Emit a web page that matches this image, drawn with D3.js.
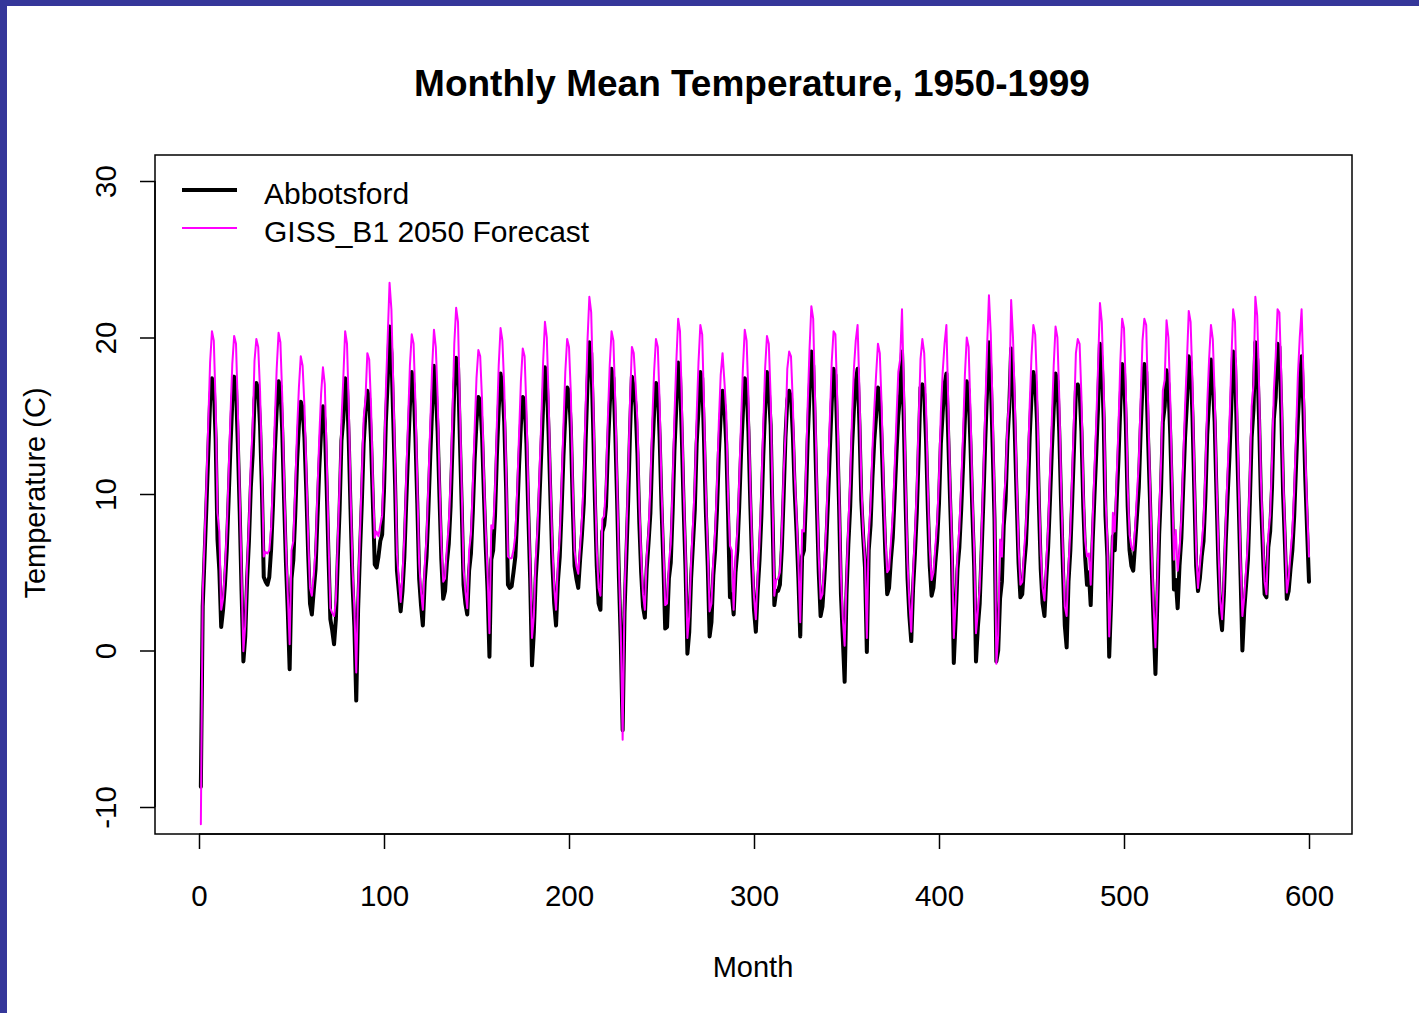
<!DOCTYPE html>
<html>
<head>
<meta charset="utf-8">
<title>Monthly Mean Temperature, 1950-1999</title>
<script src="https://cdn.jsdelivr.net/npm/d3@7/dist/d3.min.js"></script>
<style>
  html, body { margin: 0; padding: 0; background: #ffffff; }
  svg { display: block; font-family: "Liberation Sans", Arial, Helvetica, sans-serif; }
</style>
</head>
<body>
<svg id="chart" width="1419" height="1013"></svg>
<script>
// Monthly mean temperature (°C), one row per year 1950-1999, Jan..Dec
const abbotsford = [
  [-8.7, 2.8, 6.0, 9.2, 12.6, 15.9, 17.4, 16.9, 13.5, 7.1, 5.1, 1.5],
  [2.6, 4.2, 6.4, 9.6, 13.0, 15.9, 17.5, 16.8, 13.2, 8.9, 3.8, -0.7],
  [0.9, 4.5, 7.0, 10.4, 12.5, 16.0, 17.1, 16.7, 14.4, 10.3, 4.7, 4.4],
  [4.2, 4.7, 6.5, 9.3, 12.8, 15.4, 17.2, 16.9, 14.0, 9.6, 5.6, 2.5],
  [-1.2, 4.6, 5.8, 8.6, 12.0, 14.4, 15.9, 15.5, 13.6, 10.2, 6.2, 3.0],
  [2.3, 3.8, 5.2, 8.4, 11.6, 14.0, 15.6, 14.5, 10.5, 6.0, 2.0, 1.3],
  [0.4, 2.0, 5.8, 9.0, 13.4, 14.8, 17.4, 16.8, 13.2, 8.6, 4.2, 1.5],
  [-3.2, 2.6, 6.2, 9.4, 13.2, 15.2, 16.6, 16.1, 13.4, 9.4, 5.5, 5.3],
  [6.0, 7.0, 7.4, 10.2, 14.6, 17.2, 20.7, 19.0, 14.8, 10.6, 5.1, 3.8],
  [2.5, 3.8, 6.0, 9.4, 12.6, 15.6, 17.8, 16.9, 13.6, 9.4, 4.6, 2.9],
  [1.6, 4.4, 6.0, 9.0, 12.4, 15.4, 18.2, 16.6, 14.0, 9.8, 5.8, 3.3],
  [3.8, 5.6, 6.8, 9.2, 13.0, 16.8, 18.7, 18.2, 13.6, 9.2, 4.2, 3.0],
  [2.3, 5.1, 6.2, 8.8, 12.2, 14.6, 16.2, 16.0, 13.8, 10.0, 6.6, 3.8],
  [-0.4, 5.8, 6.4, 8.6, 12.4, 15.4, 17.7, 16.9, 14.6, 10.4, 4.2, 4.0],
  [4.1, 5.0, 6.0, 8.6, 11.8, 14.4, 16.2, 16.0, 13.2, 8.8, 4.6, -0.95],
  [1.2, 4.6, 6.6, 9.6, 12.6, 15.6, 18.1, 17.2, 13.8, 9.6, 5.6, 3.0],
  [1.6, 4.4, 6.0, 9.0, 12.4, 15.0, 16.8, 16.6, 14.2, 9.4, 5.4, 4.6],
  [4.0, 5.8, 7.4, 9.4, 13.4, 17.0, 19.7, 19.0, 14.6, 9.6, 5.4, 3.0],
  [2.6, 7.6, 8.0, 9.2, 12.8, 15.6, 18.0, 17.4, 14.0, 9.6, 4.6, 0.5],
  [-5.1, 2.4, 6.0, 9.6, 14.0, 17.5, 16.8, 15.6, 12.6, 8.2, 5.0, 2.8],
  [2.1, 5.2, 6.9, 8.8, 12.6, 15.2, 17.1, 16.8, 13.6, 9.2, 5.6, 1.4],
  [1.5, 4.6, 5.6, 8.8, 12.8, 15.6, 18.4, 17.6, 13.6, 9.0, 5.2, -0.2],
  [1.2, 4.6, 6.8, 9.0, 13.2, 15.4, 17.8, 17.4, 13.4, 8.8, 5.4, 0.9],
  [1.8, 4.8, 6.4, 9.0, 12.6, 15.0, 16.6, 15.6, 13.2, 8.6, 3.4, 3.6],
  [2.3, 5.0, 6.4, 9.2, 12.6, 15.2, 17.4, 17.0, 14.0, 9.4, 5.4, 2.6],
  [1.2, 3.8, 5.8, 8.6, 12.4, 15.4, 17.8, 16.6, 14.4, 8.6, 2.9, 3.8],
  [3.8, 4.2, 6.4, 9.8, 13.6, 16.0, 16.6, 16.2, 13.8, 10.2, 7.6, 4.6],
  [0.9, 6.0, 6.4, 9.4, 13.4, 16.4, 19.1, 18.2, 13.8, 9.2, 5.0, 2.2],
  [2.8, 4.6, 6.6, 9.6, 12.8, 15.8, 18.0, 17.6, 13.8, 9.2, 3.6, 0.8],
  [-2.0, 3.6, 6.8, 9.2, 13.0, 15.4, 17.2, 18.0, 14.4, 9.6, 7.3, 5.3],
  [-0.1, 6.4, 8.0, 11.0, 13.4, 15.0, 16.8, 16.4, 13.4, 9.6, 6.2, 3.6],
  [4.0, 5.8, 7.2, 9.8, 12.6, 15.0, 16.4, 19.1, 14.6, 9.2, 4.6, 2.2],
  [0.6, 4.0, 6.2, 8.8, 12.6, 16.8, 17.0, 16.4, 13.4, 9.0, 5.4, 3.5],
  [4.0, 5.6, 7.0, 9.4, 13.2, 15.2, 17.0, 17.7, 13.6, 9.6, 5.8, -0.8],
  [2.0, 5.2, 6.6, 9.0, 11.8, 14.8, 17.2, 16.6, 13.2, 9.0, 5.4, -0.7],
  [1.5, 3.0, 6.2, 9.6, 13.4, 16.6, 19.7, 17.4, 13.0, 8.4, -0.7, 0.0],
  [3.3, 4.4, 8.0, 9.6, 13.4, 15.6, 19.3, 17.6, 13.8, 9.6, 5.6, 3.4],
  [3.6, 5.4, 6.8, 9.8, 13.6, 16.2, 17.8, 17.2, 14.6, 9.4, 5.2, 3.0],
  [2.2, 4.6, 6.6, 9.6, 12.8, 15.4, 17.7, 17.2, 14.0, 9.4, 5.2, 1.6],
  [0.2, 4.4, 6.4, 9.6, 13.0, 16.6, 17.0, 16.6, 14.0, 9.2, 6.0, 4.2],
  [5.0, 2.9, 6.8, 9.8, 12.6, 15.6, 19.6, 18.4, 14.8, 8.6, 6.0, -0.4],
  [3.0, 7.3, 6.4, 9.4, 12.2, 15.6, 18.3, 17.8, 14.4, 9.2, 6.4, 5.4],
  [5.1, 6.8, 8.6, 10.4, 14.0, 17.0, 18.3, 17.8, 13.6, 9.8, 5.2, 1.8],
  [-1.5, 3.0, 7.4, 10.2, 14.6, 15.6, 17.9, 17.0, 13.8, 9.4, 3.9, 4.5],
  [2.7, 5.4, 7.2, 10.4, 13.6, 15.8, 18.8, 18.4, 15.0, 10.2, 5.4, 3.8],
  [4.6, 6.0, 7.0, 9.8, 13.8, 16.0, 18.6, 17.2, 14.6, 10.0, 5.6, 2.4],
  [1.3, 3.6, 7.0, 9.8, 12.4, 15.6, 19.1, 18.4, 13.8, 9.4, 4.8, 0.0],
  [2.6, 4.2, 5.8, 9.4, 13.6, 15.4, 19.7, 18.6, 14.8, 9.8, 6.6, 3.6],
  [3.4, 6.6, 7.6, 10.4, 14.8, 16.2, 19.6, 19.4, 15.4, 10.0, 6.8, 3.3],
  [3.8, 5.2, 6.4, 8.6, 11.8, 14.8, 17.2, 18.8, 15.4, 11.0, 7.6, 4.4]
];

// GISS B1 2050 forecast (°C), same layout
const gissB1 = [
  [-11.1, 3.6, 7.0, 10.6, 14.5, 18.4, 20.4, 19.8, 15.7, 8.8, 7.6, 2.6],
  [3.3, 5.1, 7.6, 11.2, 15.0, 18.3, 20.1, 19.6, 15.4, 10.1, 4.8, -0.05],
  [1.6, 5.4, 8.1, 12.0, 14.2, 18.5, 19.9, 19.4, 16.6, 11.6, 6.0, 6.3],
  [6.2, 6.4, 7.8, 10.9, 14.8, 18.0, 20.3, 19.7, 16.2, 10.8, 6.6, 3.5],
  [0.4, 6.4, 7.0, 10.2, 14.0, 16.8, 18.8, 18.2, 15.6, 11.6, 7.2, 4.0],
  [3.5, 4.8, 6.4, 10.0, 13.6, 16.4, 18.1, 17.0, 12.4, 7.2, 2.7, 2.4],
  [2.2, 3.2, 7.0, 10.6, 14.7, 17.4, 20.4, 19.6, 15.4, 9.8, 5.2, 2.6],
  [-1.4, 3.8, 7.4, 11.0, 14.8, 16.1, 19.0, 18.6, 15.6, 10.6, 7.2, 7.6],
  [7.3, 8.0, 8.6, 11.8, 16.6, 20.0, 23.5, 21.8, 17.0, 11.8, 6.2, 4.6],
  [3.1, 4.8, 7.2, 11.0, 14.6, 18.2, 20.2, 19.6, 15.8, 10.6, 5.6, 3.8],
  [2.6, 5.4, 7.2, 10.6, 14.4, 18.0, 20.5, 19.4, 16.2, 11.0, 6.8, 4.4],
  [4.6, 6.6, 8.0, 10.8, 15.0, 19.6, 21.9, 21.0, 15.8, 10.4, 5.2, 3.8],
  [2.7, 6.4, 7.4, 10.4, 14.2, 17.4, 19.2, 18.8, 16.0, 11.2, 7.6, 4.8],
  [1.1, 8.0, 7.8, 10.2, 14.4, 18.2, 20.6, 19.8, 16.8, 11.6, 6.0, 5.9],
  [5.9, 6.4, 7.4, 10.2, 13.8, 17.2, 19.3, 18.8, 15.4, 10.0, 5.6, 0.8],
  [2.2, 5.8, 7.8, 11.2, 14.6, 18.4, 21.0, 20.0, 16.0, 10.8, 6.6, 4.0],
  [2.6, 5.6, 7.2, 10.6, 14.4, 17.8, 19.9, 19.4, 16.4, 10.6, 6.4, 5.4],
  [4.9, 6.6, 8.4, 11.0, 15.6, 19.8, 22.6, 21.6, 16.8, 10.8, 6.4, 4.0],
  [3.5, 8.4, 8.6, 10.6, 14.8, 18.2, 20.4, 19.8, 16.0, 10.8, 5.4, 1.2],
  [-5.7, 3.4, 7.2, 11.2, 16.0, 19.4, 19.0, 17.0, 14.6, 9.4, 6.0, 3.6],
  [2.6, 6.0, 7.6, 10.4, 14.6, 17.8, 19.9, 19.4, 15.8, 10.4, 6.6, 2.9],
  [3.0, 5.6, 6.8, 10.4, 15.0, 18.4, 21.2, 20.4, 15.8, 10.2, 6.2, 0.8],
  [2.2, 5.6, 8.0, 10.6, 15.0, 18.4, 20.8, 20.2, 15.6, 10.0, 6.4, 2.5],
  [3.0, 5.8, 7.6, 10.6, 14.6, 17.6, 19.0, 17.2, 15.2, 9.8, 6.7, 6.4],
  [2.6, 6.0, 7.6, 10.8, 14.6, 18.0, 20.5, 19.8, 16.2, 10.6, 6.4, 3.4],
  [2.0, 4.8, 7.0, 10.2, 14.4, 18.0, 20.1, 19.6, 16.2, 9.8, 3.5, 4.5],
  [4.6, 5.0, 7.4, 11.2, 13.8, 18.0, 19.1, 18.8, 15.8, 11.2, 8.6, 5.6],
  [1.8, 7.7, 7.6, 11.0, 15.6, 19.2, 22.0, 21.2, 16.0, 10.4, 6.0, 3.3],
  [3.6, 5.6, 7.8, 11.2, 14.8, 18.4, 20.4, 20.2, 16.0, 10.4, 4.8, 2.0],
  [0.3, 4.6, 8.0, 10.8, 15.0, 18.0, 19.8, 20.8, 16.6, 10.8, 7.6, 5.8],
  [0.8, 7.4, 9.2, 12.8, 15.4, 17.6, 19.6, 19.0, 15.6, 10.8, 7.2, 5.0],
  [5.2, 6.9, 8.6, 11.6, 14.8, 17.8, 18.6, 21.8, 16.8, 10.4, 5.6, 3.0],
  [1.2, 5.0, 7.4, 10.4, 14.6, 18.6, 19.9, 19.0, 15.6, 10.2, 6.4, 4.5],
  [5.0, 6.6, 8.2, 11.0, 15.2, 17.8, 19.6, 20.8, 15.8, 10.8, 6.8, 0.8],
  [3.0, 6.2, 7.8, 10.6, 13.8, 17.6, 20.0, 19.4, 15.4, 10.2, 6.4, 1.1],
  [2.5, 4.0, 7.4, 11.2, 15.4, 19.4, 22.7, 20.2, 15.2, 9.6, -0.85, 1.0],
  [7.1, 6.0, 9.6, 11.0, 14.4, 16.2, 22.4, 20.0, 15.8, 10.8, 6.6, 4.2],
  [4.4, 6.4, 8.0, 11.4, 15.6, 18.8, 20.8, 20.2, 16.8, 10.6, 6.2, 4.0],
  [3.2, 5.6, 7.8, 11.2, 14.8, 18.2, 20.7, 20.0, 16.2, 10.6, 6.2, 2.8],
  [2.2, 5.4, 7.6, 11.2, 15.0, 19.0, 19.9, 19.6, 16.2, 10.4, 7.0, 6.0],
  [6.2, 4.2, 8.0, 11.4, 14.6, 18.2, 22.2, 21.0, 17.0, 9.8, 7.0, 0.9],
  [3.8, 8.8, 7.6, 11.0, 14.2, 18.4, 21.2, 20.6, 16.6, 10.4, 7.4, 6.6],
  [6.4, 7.8, 10.0, 12.0, 16.0, 19.8, 21.2, 20.8, 15.8, 11.0, 6.2, 2.8],
  [0.2, 4.0, 8.6, 11.8, 16.6, 17.3, 21.1, 20.0, 16.0, 10.6, 5.8, 7.7],
  [5.1, 6.4, 8.4, 12.0, 15.6, 18.4, 21.7, 21.0, 17.2, 11.4, 6.4, 4.0],
  [5.4, 6.8, 8.2, 11.4, 15.8, 18.6, 20.8, 19.9, 16.4, 11.0, 6.6, 3.2],
  [2.0, 4.6, 8.2, 11.4, 14.4, 18.4, 21.8, 21.0, 16.0, 10.6, 5.8, 2.2],
  [3.4, 5.2, 7.0, 11.0, 15.6, 17.0, 22.6, 21.4, 17.0, 11.0, 7.6, 4.4],
  [3.6, 7.4, 8.6, 12.0, 16.6, 18.8, 21.8, 21.6, 17.6, 11.2, 7.8, 3.7],
  [4.6, 6.2, 7.6, 10.2, 13.8, 17.6, 20.0, 21.8, 17.6, 12.6, 9.0, 6.0]
];

const seriesNames = ["Abbotsford", "GISS_B1 2050 Forecast"];
const seriesColors = ["#000000", "#ff00ff"];
const xTicks = [0, 100, 200, 300, 400, 500, 600];
const yTicks = [-10, 0, 10, 20, 30];

const svg = d3.select("#chart");
const W = 1419, H = 1013;

// page frame: dark blue band along the top and left edges
svg.append("rect").attr("x", 0).attr("y", 0).attr("width", W).attr("height", H).attr("fill", "#ffffff");
svg.append("rect").attr("x", 0).attr("y", 0).attr("width", W).attr("height", 6).attr("fill", "#35379a");
svg.append("rect").attr("x", 0).attr("y", 0).attr("width", 7).attr("height", H).attr("fill", "#35379a");

// plot region (box) and data range mapping
const box = { left: 155, top: 155, right: 1352, bottom: 834 };
const x = d3.scaleLinear().domain([0, 600]).range([199, 1309]);
const y = d3.scaleLinear().domain([-10, 30]).range([807, 181]);

const toPoints = rows => rows.flat().map((v, i) => ({ month: i + 1, value: v }));
const series = [toPoints(abbotsford), toPoints(gissB1)];

const line = d3.line()
  .x(d => x(d.month))
  .y(d => y(d.value));

const plot = svg.append("g");
const widths = [4, 2];
series.forEach((pts, i) => {
  plot.append("path")
    .datum(pts)
    .attr("d", line)
    .attr("fill", "none")
    .attr("stroke", seriesColors[i])
    .attr("stroke-width", widths[i])
    .attr("stroke-linejoin", "round")
    .attr("stroke-linecap", "round");
});

// box around the plot
svg.append("rect")
  .attr("x", box.left).attr("y", box.top)
  .attr("width", box.right - box.left).attr("height", box.bottom - box.top)
  .attr("fill", "none").attr("stroke", "#000").attr("stroke-width", 1.5);

// plain ASCII hyphen for negative tick labels
const tickText = d => String(d);

// x axis
const xAxis = svg.append("g")
  .attr("transform", `translate(0,${box.bottom})`)
  .call(d3.axisBottom(x).tickValues(xTicks).tickSize(15).tickPadding(0).tickFormat(tickText));
xAxis.select(".domain").attr("d", `M${x(0)},0H${x(600)}`).attr("stroke-width", 1.5);
xAxis.selectAll(".tick line").attr("stroke-width", 1.5);
xAxis.selectAll(".tick text")
  .attr("y", 72).attr("dy", null)
  .attr("font-size", 29.5).attr("fill", "#000")
  .attr("font-family", "'Liberation Sans', Arial, sans-serif");

// y axis with labels turned parallel to the axis
const yAxis = svg.append("g")
  .attr("transform", `translate(${box.left},0)`)
  .call(d3.axisLeft(y).tickValues(yTicks).tickSize(15).tickFormat(tickText));
yAxis.select(".domain").attr("d", `M0,${y(-10)}V${y(30)}`).attr("stroke-width", 1.5);
yAxis.selectAll(".tick line").attr("stroke-width", 1.5);
yAxis.selectAll(".tick text")
  .attr("x", null).attr("dy", null)
  .attr("text-anchor", "middle")
  .attr("transform", "translate(-39,0) rotate(-90)")
  .attr("font-size", 29.5).attr("fill", "#000")
  .attr("font-family", "'Liberation Sans', Arial, sans-serif");

// title and axis titles
svg.append("text")
  .attr("x", 752).attr("y", 96)
  .attr("text-anchor", "middle")
  .attr("font-size", 37).attr("font-weight", "bold")
  .text("Monthly Mean Temperature, 1950-1999");

svg.append("text")
  .attr("x", 753).attr("y", 977)
  .attr("text-anchor", "middle")
  .attr("font-size", 29)
  .text("Month");

svg.append("text")
  .attr("transform", "translate(45,493) rotate(-90)")
  .attr("text-anchor", "middle")
  .attr("font-size", 29)
  .text("Temperature (C)");

// legend
const legend = svg.append("g");
const legendY = [190, 228];
seriesNames.forEach((name, i) => {
  legend.append("line")
    .attr("x1", 182).attr("x2", 237)
    .attr("y1", legendY[i]).attr("y2", legendY[i])
    .attr("stroke", seriesColors[i]).attr("stroke-width", widths[i]);
  legend.append("text")
    .attr("x", 264).attr("y", legendY[i] + 14)
    .attr("font-size", 30)
    .text(name);
});
</script>
</body>
</html>
